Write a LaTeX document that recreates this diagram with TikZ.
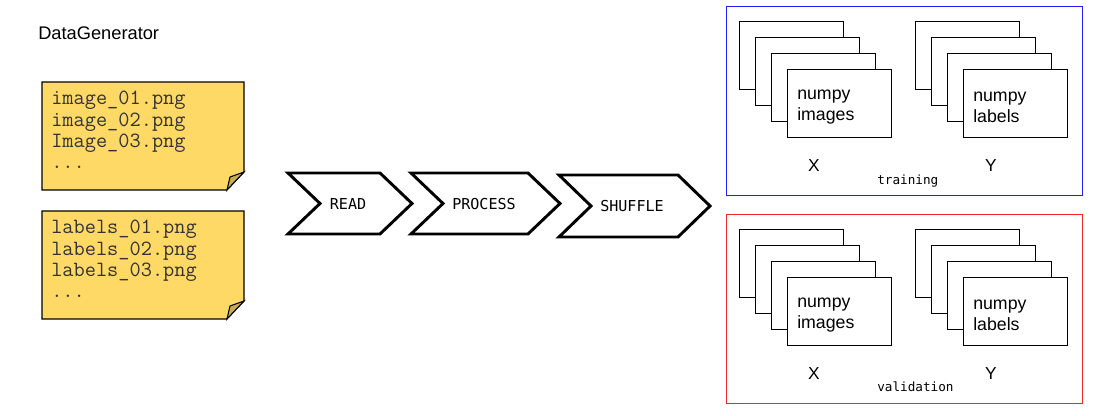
\documentclass[tikz,border=0pt]{standalone}
\usepackage{fontspec}
\setmainfont{Liberation Sans}
\newfontfamily\stepfont{DejaVu Sans Mono}
\usetikzlibrary{calc,positioning}

\definecolor{notefill}{HTML}{FFD966}
\definecolor{notefold}{HTML}{C9AA55}
\definecolor{notetextcol}{HTML}{333333}
\definecolor{trainblue}{HTML}{2020F0}
\definecolor{validred}{HTML}{F02828}

\begin{document}
\begin{tikzpicture}[x=0.75pt, y=-0.75pt, line join=miter,
  notetext/.style={inner sep=0pt, align=left, text=notetextcol,
    font=\ttfamily\fontsize{16.3}{15.9}\selectfont},
  stepbox/.style={draw, line width=2.2pt, fill=white},
  steplabel/.style={inner sep=0pt, font=\stepfont\fontsize{11.3}{13}\selectfont},
  setbox/.style={line width=0.9pt, inner sep=0pt, minimum width=267pt, minimum height=141.75pt},
  card/.style={draw, fill=white, line width=0.8pt, inner sep=0pt,
    minimum width=78pt, minimum height=51pt},
  cardtext/.style={inner sep=0pt, align=left, font=\fontsize{13.3}{15.75}\selectfont},
  axislabel/.style={inner sep=0pt, font=\fontsize{13}{15}\selectfont},
  setlabel/.style={inner sep=0pt, font=\stepfont\fontsize{9.5}{11}\selectfont}]

  \useasboundingbox (0,0) rectangle (1115,416);

  % ===== title =====
  \node[inner sep=0pt, anchor=west, font=\fontsize{13.7}{15}\selectfont] (title) at (38,33) {DataGenerator};

  % ===== file notes =====
  \foreach \name/\top in {imgnote/82, lblnote/211} {
    \draw[fill=notefill, line width=0.8pt]
      (42,\top) -- (244,\top) -- (244,\top+90) -- (227,\top+108) -- (42,\top+108) -- cycle;
    \draw[fill=notefold, line width=0.8pt]
      (227,\top+108) -- (230,\top+95) -- (244,\top+90) -- cycle;
    \coordinate (\name) at (51,\top+9);
  }
  \node[notetext, anchor=north west] (imgfiles) at (imgnote)
    {image\_01.png\\image\_02.png\\Image\_03.png\\...};
  \node[notetext, anchor=north west] (lblfiles) at (lblnote)
    {labels\_01.png\\labels\_02.png\\labels\_03.png\\...};

  % ===== pipeline =====
  \def\tip{32}
  \draw[stepbox] (288,173) -- (380,173) -- ++(\tip,30.5) -- (380,234)
    -- (288,234) -- ++(\tip,-30.5) -- cycle;
  \node[steplabel] (read) at (348,204) {READ};

  \draw[stepbox] (411,173) -- (528,173) -- ++(\tip,30.5) -- (528,234)
    -- (411,234) -- ++(\tip,-30.5) -- cycle;
  \node[steplabel] (process) at (484,204) {PROCESS};

  \draw[stepbox] (559,175) -- (678,175) -- ++(\tip,31) -- (678,237)
    -- (559,237) -- ++(\tip,-31) -- cycle;
  \node[steplabel] (shuffle) at (632,206) {SHUFFLE};

  % ===== training / validation sets =====
  \foreach \set/\dy/\col/\txt/\ly in {train/0/trainblue/training/181,
                                      valid/208/validred/validation/387} {
    \node[setbox, draw=\col, anchor=north west] (\set box) at (726,6+\dy) {};
    \foreach \i in {0,...,3} {
      \node[card, anchor=north west] (\set X\i) at (739+16*\i,21+\dy+16*\i) {};
      \node[card, anchor=north west] (\set Y\i) at (915+16*\i,21+\dy+16*\i) {};
    }
    \node[cardtext, anchor=west] at ($(\set X3.west)+(10,4)$) {numpy\\images};
    \node[cardtext, anchor=west] at ($(\set Y3.west)+(10,4)$) {numpy\\labels};
    \node[axislabel] (\set xlab) at (814,166+\dy) {X};
    \node[axislabel] (\set ylab) at (991,166+\dy) {Y};
    \node[setlabel, anchor=west] (\set lab) at (877,\ly) {\txt};
  }

\end{tikzpicture}
\end{document}
